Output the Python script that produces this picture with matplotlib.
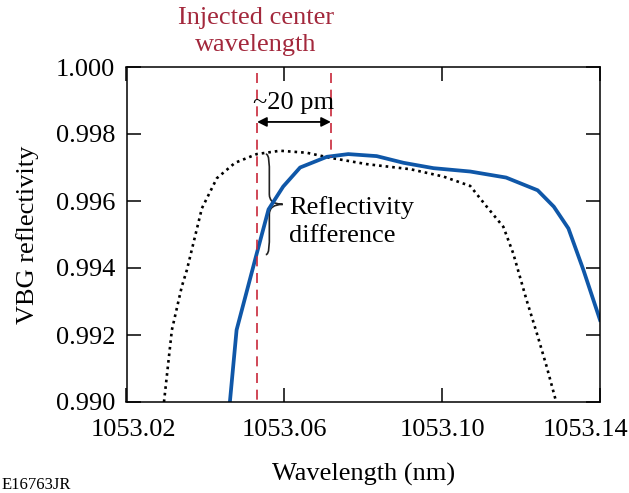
import matplotlib
matplotlib.use("Agg")
import matplotlib.pyplot as plt
from matplotlib.transforms import ScaledTranslation
from matplotlib.path import Path
from matplotlib.patches import PathPatch

plt.rcParams['font.family'] = ['Liberation Serif', 'DejaVu Serif']

# Measured VBG reflectivity (dotted) and shifted reflectivity (solid)
wl_dotted = [1053.0295, 1053.0315, 1053.0340, 1053.0353, 1053.0391, 1053.0429,
             1053.0475, 1053.0530, 1053.0589, 1053.0657, 1053.0716, 1053.0809,
             1053.0919, 1053.1003, 1053.1071, 1053.1113, 1053.1155, 1053.1180,
             1053.1214, 1053.1240, 1053.1265, 1053.1289]
refl_dotted = [0.99000, 0.99215, 0.99344, 0.99394, 0.99578, 0.99668,
               0.99714, 0.99740, 0.99750, 0.99744, 0.99729, 0.99710,
               0.99695, 0.99673, 0.99645, 0.99583, 0.99523, 0.99444,
               0.99304, 0.99205, 0.99105, 0.99000]

wl_solid = [1053.0462, 1053.0479, 1053.0528, 1053.0560, 1053.0597, 1053.0640,
            1053.0708, 1053.0762, 1053.0834, 1053.0902, 1053.0978, 1053.1071,
            1053.1162, 1053.1242, 1053.1283, 1053.1320, 1053.1358, 1053.1400]
refl_solid = [0.99000, 0.99215, 0.99434, 0.99575, 0.99643, 0.99700,
              0.99732, 0.99740, 0.99734, 0.99714, 0.99698, 0.99688,
              0.99670, 0.99632, 0.99583, 0.99518, 0.99394, 0.99245]

x_ticks = [1053.02, 1053.06, 1053.10, 1053.14]
x_tick_labels = ['1053.02', '1053.06', '1053.10', '1053.14']
y_ticks = [0.990, 0.992, 0.994, 0.996, 0.998, 1.000]
y_tick_labels = ['0.990', '0.992', '0.994', '0.996', '0.998', '1.000']

injected_wl = 1053.0531
shifted_wl = 1053.0718

W, H = 629, 493
fig = plt.figure(figsize=(W / 100, H / 100), dpi=100)
ax = fig.add_axes([126.5 / W, (H - 402) / H, (600 - 126.5) / W, (402 - 67) / H])

red_text = '#a3283c'
red_line = '#c8283a'
blue = '#0f57a8'
fs = 19

ax.plot(wl_dotted, refl_dotted, color='black', lw=1.9, linestyle=(0, (1, 1.5)))
ax.plot(wl_solid, refl_solid, color=blue, lw=2.7, solid_joinstyle='round')

ax.set_xlim(1053.02, 1053.14)
ax.set_ylim(0.990, 1.000)
ax.set_xticks(x_ticks)
ax.set_xticklabels(x_tick_labels)
ax.set_yticks(y_ticks)
ax.set_yticklabels(y_tick_labels)
ax.tick_params(direction='in', length=10, width=1.1, labelsize=fs,
               top=True, right=True, pad=8)
ax.tick_params(axis='x', pad=12)
for s in ax.spines.values():
    s.set_linewidth(1.1)

# nudge the edge tick labels inward
xl = ax.get_xticklabels()
xl[0].set_transform(xl[0].get_transform() + ScaledTranslation(7 / 100, 0, fig.dpi_scale_trans))
xl[-1].set_transform(xl[-1].get_transform() + ScaledTranslation(-15 / 100, 0, fig.dpi_scale_trans))

ax.set_xlabel('Wavelength (nm)', fontsize=fs, labelpad=16)
ax.set_ylabel('VBG reflectivity', fontsize=fs, labelpad=12)

# injected / shifted wavelength markers
ax.plot([injected_wl, injected_wl], [0.99982, 0.990], color=red_line, lw=1.2,
        linestyle=(0, (6, 4)))
ax.plot([shifted_wl, shifted_wl], [0.99982, 0.99732], color=red_line, lw=1.2,
        linestyle=(0, (6, 4)))

ax.annotate('', xy=(injected_wl, 0.99836), xytext=(shifted_wl, 0.99836),
            arrowprops=dict(arrowstyle='<|-|>', color='black', lw=1.3,
                            mutation_scale=14, shrinkA=0, shrinkB=0))
ax.text((injected_wl + shifted_wl) / 2, 0.99892, '~20 pm', ha='center',
        va='center', fontsize=fs)

fig.text(256 / W, 1 - 18 / H, 'Injected center', ha='center', va='center',
         fontsize=fs, color=red_text)
fig.text(256 / W, 1 - 45 / H, 'wavelength', ha='center', va='center',
         fontsize=fs, color=red_text)

# curly brace between the two curves
bx = 1053.0562
tipx = 1053.0596
y_top, y_bot, y_mid = 0.99740, 0.99440, 0.99590
c = 0.0009
dy = 0.00030
verts = [
    (bx - c, y_top),
    (bx, y_top), (bx, y_top - dy), (bx, y_top - 2 * dy),
    (bx, y_mid + dy),
    (bx, y_mid), (tipx, y_mid),
    (bx, y_mid), (bx, y_mid - dy),
    (bx, y_bot + 2 * dy),
    (bx, y_bot + dy), (bx, y_bot), (bx - c, y_bot),
]
codes = [Path.MOVETO,
         Path.CURVE4, Path.CURVE4, Path.CURVE4,
         Path.LINETO,
         Path.CURVE3, Path.CURVE3,
         Path.CURVE3, Path.CURVE3,
         Path.LINETO,
         Path.CURVE4, Path.CURVE4, Path.CURVE4]
ax.add_patch(PathPatch(Path(verts, codes), facecolor='none', edgecolor='#222222',
                       lw=1.2))

ax.text(1053.0612, 0.99580, 'Reflectivity', ha='left', va='center', fontsize=fs)
ax.text(1053.0612, 0.99496, 'difference', ha='left', va='center', fontsize=fs)

fig.text(2 / W, 1 - 485 / H, 'E16763JR', ha='left', va='center', fontsize=12)

fig.savefig('out.png', dpi=100)
